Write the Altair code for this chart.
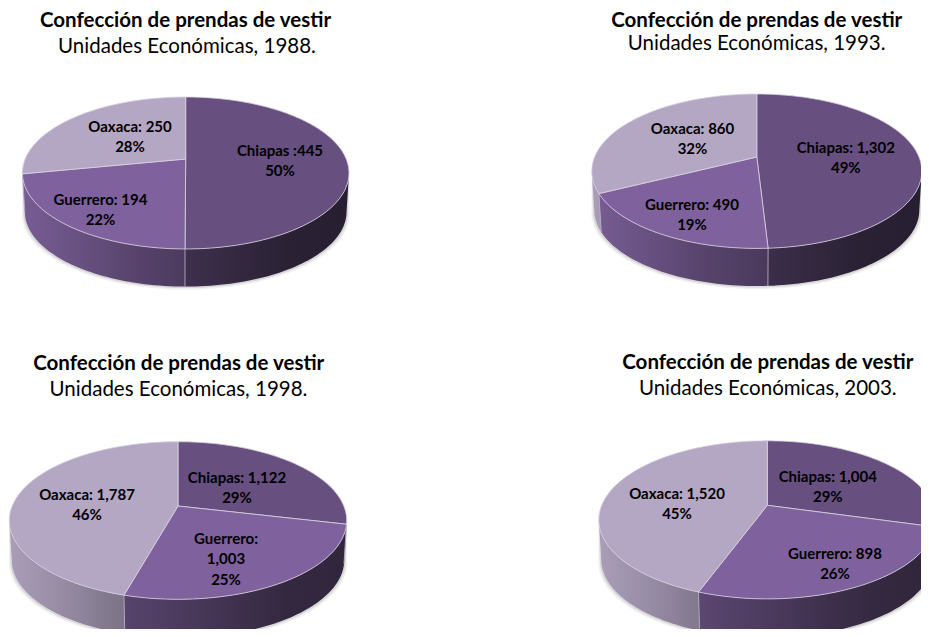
import math
import altair as alt

# ---- data ----
years = [1988, 1993, 1998, 2003]
chiapas = [445, 1302, 1122, 1004]
guerrero = [194, 490, 1003, 898]
oaxaca = [250, 860, 1787, 1520]
title_text = "Confección de prendas de vestir"
subtitle_texts = ["Unidades Económicas, 1988.", "Unidades Económicas, 1993.",
                  "Unidades Económicas, 1998.", "Unidades Económicas, 2003."]
label_lines = [
    [["Chiapas :445", "50%"], ["Guerrero: 194", "22%"], ["Oaxaca: 250", "28%"]],
    [["Chiapas: 1,302", "49%"], ["Guerrero: 490", "19%"], ["Oaxaca: 860", "32%"]],
    [["Chiapas: 1,122", "29%"], ["Guerrero:", "1,003", "25%"], ["Oaxaca: 1,787", "46%"]],
    [["Chiapas: 1,004", "29%"], ["Guerrero: 898", "26%"], ["Oaxaca: 1,520", "45%"]],
]

# ---- layout and style (page pixels) ----
M = 8
K = 0.184
BOTTOM_SHRINK = 0.985
pies = [  # hub x, hub y, half width, back height, wall depth
    (185.7, 159.0, 163.3, 62.0, 39.0),
    (756.8, 157.0, 165.0, 63.0, 39.0),
    (178.0, 506.0, 168.7, 64.3, 40.0),
    (767.3, 505.3, 168.5, 64.5, 40.0),
]
title_pos = [(185.5, 27, 187, 53), (756.7, 26.5, 756.7, 50), (178.7, 369.5, 178.5, 396), (767.8, 368.5, 767.8, 395)]
label_pos = [
    [(280, 155.7), (100.5, 205), (130, 131.7)],
    [(845.8, 153), (692, 210), (692.5, 134)],
    [(237, 483), (226, 544), (87, 499.7)],
    [(827.8, 482), (835, 559), (677, 498.7)],
]
LINE_H = 20.3
top_colors = ["#674f7f", "#7f629d", "#b4a7c4"]
edge_color = "#d9d2e2"
light_u = [0.0, 0.15, 0.35, 0.5, 0.8, 1.0]
light_v = [0.94, 0.84, 0.68, 0.60, 0.42, 0.38]
FONT = "Lato"
TITLE_SIZE = 20.5
SUB_SIZE = 20.5
LABEL_SIZE = 15

proj = alt.Projection(type="identity", scale=1, translate=[0, 0])


def pt(pie, t, bottom=False):
    cx, hy, w, back, depth = pie
    a = w * math.sqrt(1 - K * K)
    b = back * (1 + K)
    den = 1 + K * math.cos(t)
    x = a * math.sin(t) / den
    y = -b * math.cos(t) / den
    if bottom:
        return [cx + BOTTOM_SHRINK * x - M, hy + depth + BOTTOM_SHRINK * y - M]
    return [cx + x - M, hy + y - M]


def arc(pie, t0, t1, bottom=False):
    n = max(2, int(abs(t1 - t0) / math.radians(1.5)))
    return [pt(pie, t0 + (t1 - t0) * i / n, bottom) for i in range(n + 1)]


def lit(u):
    for i in range(len(light_u) - 1):
        if u <= light_u[i + 1]:
            f = (u - light_u[i]) / (light_u[i + 1] - light_u[i])
            return light_v[i] + f * (light_v[i + 1] - light_v[i])
    return light_v[-1]


def shade(color, f):
    r, g, b = (int(color[i:i + 2], 16) for i in (1, 3, 5))
    return "#%02x%02x%02x" % (round(r * f), round(g * f), round(b * f))


def feature(kind, coords):
    return {"type": "Feature", "properties": {}, "geometry": {"type": kind, "coordinates": coords}}


def shape(feat, **kw):
    return alt.Chart(alt.Data(values=[feat])).mark_geoshape(**kw).project(**proj.to_dict())


def text(line, x, y, bold, size):
    return alt.Chart(alt.Data(values=[{"t": line}])).mark_text(
        font=FONT, fontSize=size, fontWeight="bold" if bold else "normal",
        color="#000000", align="center", baseline="alphabetic",
    ).encode(x=alt.value(x - M), y=alt.value(y - M), text="t:N")


layers = []
for p, pie in enumerate(pies):
    vals = [chiapas[p], guerrero[p], oaxaca[p]]
    total = sum(vals)
    cuts = [0.0]
    for v in vals:
        cuts.append(cuts[-1] + v / total * 2 * math.pi)
    t_r = math.acos(-K)
    t_l = 2 * math.pi - t_r
    cx, hy, w, back, depth = pie

    # soft shadow under the wall
    for grow, op in ((3.0, 0.06), (1.5, 0.10)):
        ring = arc(pie, t_r, t_l, True)
        ring = [[q[0] + (q[0] + M - cx) * grow / w, q[1] + grow] for q in ring]
        top_r = arc(pie, t_l, t_r + 2 * math.pi)
        layers.append(shape(feature("Polygon", [ring + top_r + [ring[0]]]), fill="#000000", opacity=op, stroke=None))

    # walls
    for i in range(3):
        t0, t1 = max(cuts[i], t_r), min(cuts[i + 1], t_l)
        if t1 <= t0:
            continue
        upper = arc(pie, t0, t1)
        lower = arc(pie, t0, t1, True)
        ring = upper + lower[::-1] + [upper[0]]
        xs = [q[0] for q in ring]
        x0, x1 = min(xs), max(xs)
        stops = []
        for j in range(9):
            off = j / 8
            u = (x0 + off * (x1 - x0) + M - (cx - w)) / (2 * w)
            stops.append(alt.GradientStop(offset=off, color=shade(top_colors[i], lit(u))))
        grad = alt.LinearGradient(gradient="linear", stops=stops, x1=0, x2=1, y1=0, y2=0)
        layers.append(shape(feature("Polygon", [ring]), fill=grad, stroke=None))

    # wall separators on the visible front
    for c in cuts[:3]:
        for cc in (c, c + 2 * math.pi):
            if t_r < cc < t_l:
                layers.append(shape(feature("LineString", [pt(pie, cc), pt(pie, cc, True)]),
                                    filled=False, stroke="#b3a9bf", strokeWidth=0.9))

    # top slices
    hub = [cx - M, hy - M]
    for i in range(3):
        ring = [hub] + arc(pie, cuts[i], cuts[i + 1]) + [hub]
        layers.append(shape(feature("Polygon", [ring]), fill=top_colors[i], stroke=edge_color, strokeWidth=0.8))

    # texts
    tx, ty, sx, sy = title_pos[p]
    layers.append(text(title_text, tx, ty, True, TITLE_SIZE))
    layers.append(text(subtitle_texts[p], sx, sy, False, SUB_SIZE))
    for lines, (lx, ly) in zip(label_lines[p], label_pos[p]):
        for n, line in enumerate(lines):
            layers.append(text(line, lx, ly + n * LINE_H, True, LABEL_SIZE))

chart = alt.layer(*layers).properties(
    width=913, height=621, padding=0, autosize=alt.AutoSizeParams(type="none"), background="#ffffff",
).configure_view(stroke=None)

chart.save("out.html", embed_options={"renderer": "svg", "actions": False})
